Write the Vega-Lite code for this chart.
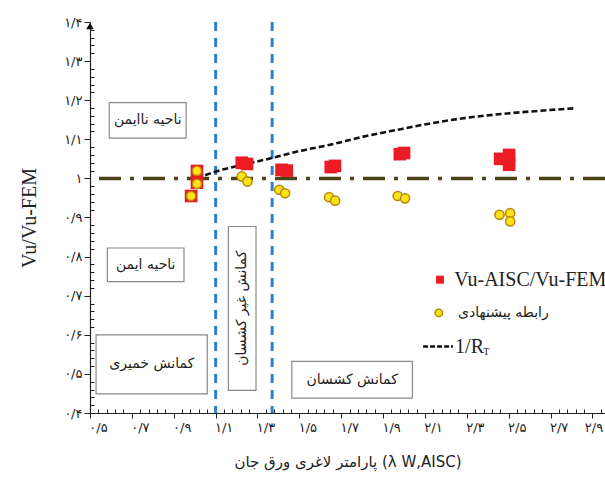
{
  "$schema": "https://vega.github.io/schema/vega-lite/v6.json",
  "width": 515,
  "height": 391,
  "autosize": "none",
  "padding": {"left": 90, "top": 22, "right": 0, "bottom": 71},
  "background": "white",
  "config": {"view": {"stroke": null}, "font": "DejaVu Sans", "axis": {"grid": false}},
  "resolve": {"axis": {"x": "independent", "y": "independent"}},
  "datasets": {
    "boxes": [
      {"x": 0.592, "x2": 0.959, "y": 1.103, "y2": 1.194},
      {"x": 0.583, "x2": 0.949, "y": 0.736, "y2": 0.822},
      {"x": 0.529, "x2": 1.06, "y": 0.449, "y2": 0.6},
      {"x": 1.161, "x2": 1.293, "y": 0.458, "y2": 0.877},
      {"x": 1.464, "x2": 2.04, "y": 0.438, "y2": 0.532}
    ],
    "boxlabels": [
      {"x": 0.776, "y": 1.149, "label": "ناحیه ناایمن"},
      {"x": 0.766, "y": 0.779, "label": "ناحیه ایمن"},
      {"x": 0.795, "y": 0.525, "label": "کمانش خمیری"},
      {"x": 1.752, "y": 0.485, "label": "کمانش کشسان"}
    ],
    "vlabel": [{"x": 1.227, "y": 0.668, "label": "کمانش غیر کشسان"}],
    "refline": [{"y": 1}],
    "limits": [{"x": 1.1}, {"x": 1.37}],
    "curve": [
      {"x": 1.01, "y": 1.0}, {"x": 1.097, "y": 1.017}, {"x": 1.24, "y": 1.036},
      {"x": 1.368, "y": 1.052}, {"x": 1.5, "y": 1.07}, {"x": 1.647, "y": 1.086},
      {"x": 1.8, "y": 1.106}, {"x": 1.965, "y": 1.124}, {"x": 2.12, "y": 1.14},
      {"x": 2.284, "y": 1.154}, {"x": 2.45, "y": 1.164}, {"x": 2.602, "y": 1.171},
      {"x": 2.809, "y": 1.179}
    ],
    "aisc": [
      {"x": 1.011, "y": 1.019}, {"x": 1.011, "y": 0.989}, {"x": 0.983, "y": 0.955},
      {"x": 1.225, "y": 1.04}, {"x": 1.25, "y": 1.037},
      {"x": 1.415, "y": 1.022}, {"x": 1.44, "y": 1.02},
      {"x": 1.65, "y": 1.029}, {"x": 1.67, "y": 1.032},
      {"x": 1.98, "y": 1.062}, {"x": 2.0, "y": 1.065},
      {"x": 2.459, "y": 1.05}, {"x": 2.502, "y": 1.06}, {"x": 2.502, "y": 1.035}
    ],
    "proposed": [
      {"x": 1.011, "y": 1.019}, {"x": 1.011, "y": 0.986}, {"x": 0.983, "y": 0.955},
      {"x": 1.225, "y": 1.005}, {"x": 1.252, "y": 0.992},
      {"x": 1.404, "y": 0.971}, {"x": 1.432, "y": 0.962},
      {"x": 1.642, "y": 0.952}, {"x": 1.671, "y": 0.943},
      {"x": 1.97, "y": 0.955}, {"x": 2.005, "y": 0.949},
      {"x": 2.456, "y": 0.907}, {"x": 2.507, "y": 0.911}, {"x": 2.507, "y": 0.89}
    ],
    "arrow": [{"x": 0.5, "y": 1.4}],
    "legsq": [{"x": 2.172, "y": 0.741}],
    "legci": [{"x": 2.166, "y": 0.656}],
    "legline": [{"x": 2.091, "y": 0.57}, {"x": 2.234, "y": 0.57}],
    "legserif": [
      {"x": 2.24, "y": 0.741, "label": "Vu-AISC/Vu-FEM"},
      {"x": 2.244, "y": 0.57, "label": "1/R"}
    ],
    "legsub": [{"x": 2.378, "y": 0.555, "label": "T"}],
    "legfa": [{"x": 2.258, "y": 0.656, "label": "رابطه پیشنهادی"}]
  },
  "layer": [
    {
      "data": {"name": "boxes"},
      "mark": {"type": "rect", "fill": "white", "stroke": "#8a8a8a", "strokeWidth": 1.2},
      "encoding": {
        "x": {
          "field": "x", "type": "quantitative",
          "scale": {"domain": [0.5, 2.96], "nice": false, "zero": false},
          "axis": {
            "orient": "bottom",
            "title": "پارامتر لاغری ورق جان (λ W,AISC)",
            "values": [0.5, 0.7, 0.9, 1.1, 1.3, 1.5, 1.7, 1.9, 2.1, 2.3, 2.5, 2.7, 2.9],
            "labelExpr": "replace(replace(replace(replace(replace(replace(replace(replace(replace(replace(replace(format(datum.value,'.1~f'),'.','/'),regexp('0','g'),'۰'),regexp('1','g'),'۱'),regexp('2','g'),'۲'),regexp('3','g'),'۳'),regexp('4','g'),'۴'),regexp('5','g'),'۵'),regexp('6','g'),'۶'),regexp('7','g'),'۷'),regexp('8','g'),'۸'),regexp('9','g'),'۹')",
            "labelOverlap": false, "labelFlush": false, "labelBound": false,
            "labelFontSize": 13, "labelColor": "#222", "labelPadding": 3,
            "labelOffset": {"condition": {"test": "datum.value > 2.8", "value": 1}, "value": 8},
            "tickSize": 5, "tickColor": "#222", "domainColor": "#222", "domainWidth": 1.2,
            "titleFontSize": 15, "titleFontWeight": "normal", "titleColor": "#222", "titlePadding": 20
          }
        },
        "x2": {"field": "x2"},
        "y": {
          "field": "y", "type": "quantitative",
          "scale": {"domain": [0.4, 1.4], "nice": false, "zero": false},
          "axis": {
            "orient": "left",
            "title": "Vu/Vu-FEM",
            "values": [0.4, 0.5, 0.6, 0.7, 0.8, 0.9, 1, 1.1, 1.2, 1.3, 1.4],
            "labelExpr": "replace(replace(replace(replace(replace(replace(replace(replace(replace(replace(replace(format(datum.value,'.1~f'),'.','/'),regexp('0','g'),'۰'),regexp('1','g'),'۱'),regexp('2','g'),'۲'),regexp('3','g'),'۳'),regexp('4','g'),'۴'),regexp('5','g'),'۵'),regexp('6','g'),'۶'),regexp('7','g'),'۷'),regexp('8','g'),'۸'),regexp('9','g'),'۹')",
            "labelOverlap": false, "labelFlush": false, "labelBound": false,
            "labelFontSize": 13, "labelColor": "#222", "labelPadding": 2,
            "tickSize": 6, "tickColor": "#222", "domainColor": "#222", "domainWidth": 1.2,
            "titleFont": "Liberation Serif", "titleFontSize": 20, "titleFontWeight": "normal", "titleColor": "#222", "titlePadding": 24
          }
        },
        "y2": {"field": "y2"}
      }
    },
    {
      "data": {"name": "boxlabels"},
      "mark": {"type": "text", "fontSize": 14, "color": "#222"},
      "encoding": {
        "x": {
          "field": "x", "type": "quantitative",
          "axis": {
            "orient": "bottom", "title": null, "labels": false, "domain": false,
            "values": [0.54,0.58,0.62,0.66,0.74,0.78,0.82,0.86,0.94,0.98,1.02,1.06,1.14,1.18,1.22,1.26,1.34,1.38,1.42,1.46,1.54,1.58,1.62,1.66,1.74,1.78,1.82,1.86,1.94,1.98,2.02,2.06,2.14,2.18,2.22,2.26,2.34,2.38,2.42,2.46,2.54,2.58,2.62,2.66,2.74,2.78,2.82,2.86,2.94],
            "tickSize": -4, "tickColor": "#222"
          }
        },
        "y": {
          "field": "y", "type": "quantitative",
          "axis": {
            "orient": "left", "title": null, "labels": false, "domain": false,
            "values": [0.42,0.44,0.46,0.48,0.52,0.54,0.56,0.58,0.62,0.64,0.66,0.68,0.72,0.74,0.76,0.78,0.82,0.84,0.86,0.88,0.92,0.94,0.96,0.98,1.02,1.04,1.06,1.08,1.12,1.14,1.16,1.18,1.22,1.24,1.26,1.28,1.32,1.34,1.36,1.38],
            "tickSize": -4, "tickColor": "#222"
          }
        },
        "text": {"field": "label"}
      }
    },
    {
      "data": {"name": "vlabel"},
      "mark": {"type": "text", "fontSize": 14, "color": "#222", "angle": 270},
      "encoding": {
        "x": {"field": "x", "type": "quantitative", "axis": null},
        "y": {"field": "y", "type": "quantitative", "axis": null},
        "text": {"field": "label"}
      }
    },
    {
      "data": {"name": "refline"},
      "mark": {"type": "rule", "color": "#4f4419", "strokeWidth": 3.5, "strokeDash": [22, 9, 4, 9]},
      "encoding": {"y": {"field": "y", "type": "quantitative", "axis": null}}
    },
    {
      "data": {"name": "limits"},
      "mark": {"type": "rule", "color": "#2f7fc8", "strokeWidth": 3, "strokeDash": [9, 7]},
      "encoding": {"x": {"field": "x", "type": "quantitative", "axis": null}}
    },
    {
      "data": {"name": "curve"},
      "mark": {"type": "line", "color": "#111", "strokeWidth": 2.6, "strokeDash": [6, 3], "interpolate": "monotone"},
      "encoding": {
        "x": {"field": "x", "type": "quantitative", "axis": null},
        "y": {"field": "y", "type": "quantitative", "axis": null}
      }
    },
    {
      "data": {"name": "aisc"},
      "mark": {"type": "point", "shape": "square", "filled": true, "size": 160, "color": "#ec1c24", "opacity": 1},
      "encoding": {
        "x": {"field": "x", "type": "quantitative", "axis": null},
        "y": {"field": "y", "type": "quantitative", "axis": null}
      }
    },
    {
      "data": {"name": "proposed"},
      "mark": {"type": "point", "shape": "circle", "filled": true, "size": 85, "fill": "#ffe31a", "stroke": "#b8860b", "strokeWidth": 1.5, "opacity": 1},
      "encoding": {
        "x": {"field": "x", "type": "quantitative", "axis": null},
        "y": {"field": "y", "type": "quantitative", "axis": null}
      }
    },
    {
      "data": {"name": "arrow"},
      "mark": {"type": "point", "shape": "triangle-up", "filled": true, "size": 60, "color": "#111", "opacity": 1, "yOffset": 4, "clip": false},
      "encoding": {
        "x": {"field": "x", "type": "quantitative", "axis": null},
        "y": {"field": "y", "type": "quantitative", "axis": null}
      }
    },
    {
      "data": {"name": "legsq"},
      "mark": {"type": "point", "shape": "square", "filled": true, "size": 64, "color": "#ec1c24", "opacity": 1},
      "encoding": {
        "x": {"field": "x", "type": "quantitative", "axis": null},
        "y": {"field": "y", "type": "quantitative", "axis": null}
      }
    },
    {
      "data": {"name": "legci"},
      "mark": {"type": "point", "shape": "circle", "filled": true, "size": 55, "fill": "#ffe31a", "stroke": "#b8860b", "strokeWidth": 1.5, "opacity": 1},
      "encoding": {
        "x": {"field": "x", "type": "quantitative", "axis": null},
        "y": {"field": "y", "type": "quantitative", "axis": null}
      }
    },
    {
      "data": {"name": "legline"},
      "mark": {"type": "line", "color": "#111", "strokeWidth": 2.6, "strokeDash": [5, 2]},
      "encoding": {
        "x": {"field": "x", "type": "quantitative", "axis": null},
        "y": {"field": "y", "type": "quantitative", "axis": null}
      }
    },
    {
      "data": {"name": "legserif"},
      "mark": {"type": "text", "font": "Liberation Serif", "fontSize": 20, "align": "left", "baseline": "middle", "color": "#222"},
      "encoding": {
        "x": {"field": "x", "type": "quantitative", "axis": null},
        "y": {"field": "y", "type": "quantitative", "axis": null},
        "text": {"field": "label"}
      }
    },
    {
      "data": {"name": "legsub"},
      "mark": {"type": "text", "font": "Liberation Serif", "fontSize": 10, "align": "left", "baseline": "middle", "color": "#222"},
      "encoding": {
        "x": {"field": "x", "type": "quantitative", "axis": null},
        "y": {"field": "y", "type": "quantitative", "axis": null},
        "text": {"field": "label"}
      }
    },
    {
      "data": {"name": "legfa"},
      "mark": {"type": "text", "fontSize": 14, "align": "left", "baseline": "middle", "color": "#222"},
      "encoding": {
        "x": {"field": "x", "type": "quantitative", "axis": null},
        "y": {"field": "y", "type": "quantitative", "axis": null},
        "text": {"field": "label"}
      }
    }
  ]
}
